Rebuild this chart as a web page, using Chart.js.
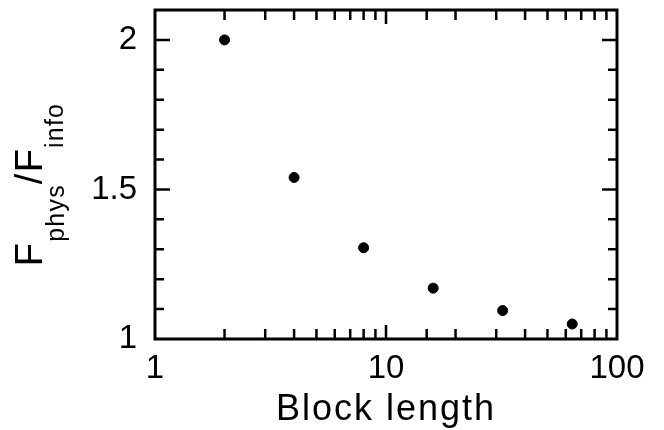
<!DOCTYPE html>
<html>
<head>
<meta charset="utf-8">
<script src="https://cdn.jsdelivr.net/npm/chart.js@4.4.1/dist/chart.umd.min.js"></script>
<style>
  html, body { margin: 0; padding: 0; background: #fff; }
</style>
</head>
<body>
<canvas id="chart" width="664" height="430"></canvas>
<script>
// block length vs. ratio of physical to informational fidelity
const blockLengths = [2, 4, 8, 16, 32, 64];
const ratios = [2.0, 1.54, 1.305, 1.17, 1.095, 1.05];
const xTickLabels = [1, 10, 100];
const yTickLabels = [1, 1.5, 2];
const xTitle = 'Block length';

const FONT = '"Liberation Sans", Arial, Helvetica, sans-serif';

function isLabel(list, v) {
    return list.some(l => Math.abs(l - v) < 1e-6);
}

// frame, inward ticks on all four sides, and the two axis titles
const frameAndTitles = {
    id: 'frameAndTitles',
    afterDraw(chart) {
        const { ctx, chartArea: a, scales: { x, y } } = chart;
        ctx.save();
        ctx.strokeStyle = '#000';
        ctx.lineWidth = 2.5;
        ctx.beginPath();
        x.ticks.forEach(t => {
            const px = x.getPixelForValue(t.value);
            if (px <= a.left + 1 || px >= a.right - 1) return;
            const len = isLabel(xTickLabels, t.value) ? 14 : 10;
            ctx.moveTo(px, a.bottom); ctx.lineTo(px, a.bottom - len);
            ctx.moveTo(px, a.top); ctx.lineTo(px, a.top + len);
        });
        y.ticks.forEach(t => {
            const py = y.getPixelForValue(t.value);
            if (py <= a.top + 1 || py >= a.bottom - 1) return;
            const len = isLabel(yTickLabels, t.value) ? 15 : 9;
            ctx.moveTo(a.left, py); ctx.lineTo(a.left + len, py);
            ctx.moveTo(a.right, py); ctx.lineTo(a.right - len, py);
        });
        ctx.stroke();
        ctx.lineWidth = 3;
        ctx.strokeRect(a.left, a.top, a.right - a.left, a.bottom - a.top);

        // x title
        ctx.fillStyle = '#000';
        ctx.letterSpacing = '2px';
        ctx.font = '36px ' + FONT;
        ctx.textAlign = 'center';
        ctx.textBaseline = 'alphabetic';
        ctx.fillText(xTitle, (a.left + a.right) / 2, 420);

        // y title with subscripts: F_phys / F_info
        const parts = [
            { t: 'F', size: 38, dy: 0 },
            { t: 'phys', size: 25, dy: 22 },
            { t: '/F', size: 38, dy: 0 },
            { t: 'info', size: 25, dy: 21 }
        ];
        ctx.letterSpacing = '1.2px';
        ctx.textAlign = 'left';
        let total = 0;
        parts.forEach(p => {
            ctx.font = p.size + 'px ' + FONT;
            p.w = ctx.measureText(p.t).width;
            total += p.w;
        });
        ctx.translate(42, (a.top + a.bottom) / 2 + 10);
        ctx.rotate(-Math.PI / 2);
        let cx = -total / 2;
        parts.forEach(p => {
            ctx.font = p.size + 'px ' + FONT;
            ctx.fillText(p.t, cx, p.dy);
            cx += p.w;
        });
        ctx.restore();
    }
};

new Chart(document.getElementById('chart'), {
    type: 'scatter',
    data: {
        datasets: [{
            data: blockLengths.map((b, i) => ({ x: b, y: ratios[i] })),
            backgroundColor: '#000',
            borderColor: '#000',
            pointRadius: 5,
            pointHoverRadius: 5
        }]
    },
    options: {
        responsive: false,
        animation: false,
        devicePixelRatio: 1,
        layout: { padding: { top: 10, right: 47, left: 0, bottom: 0 } },
        plugins: { legend: { display: false }, tooltip: { enabled: false } },
        scales: {
            x: {
                type: 'logarithmic',
                min: 1,
                max: 100,
                border: { display: false },
                grid: { display: false, drawTicks: false },
                afterFit: s => { s.height = 91; s.paddingLeft = 0; s.paddingRight = 0; },
                ticks: {
                    autoSkip: false,
                    maxRotation: 0,
                    padding: 10,
                    color: '#000',
                    font: { family: FONT, size: 33 },
                    callback: v => isLabel(xTickLabels, v) ? String(v) : ''
                }
            },
            y: {
                min: 1,
                max: 2.1,
                border: { display: false },
                grid: { display: false, drawTicks: false },
                afterFit: s => { s.width = 155; s.paddingTop = 0; s.paddingBottom = 0; },
                ticks: {
                    stepSize: 0.1,
                    autoSkip: false,
                    padding: 18,
                    color: '#000',
                    font: { family: FONT, size: 33 },
                    callback: v => isLabel(yTickLabels, v) ? String(Math.round(v * 10) / 10) : ''
                }
            }
        }
    },
    plugins: [frameAndTitles]
});
</script>
</body>
</html>
